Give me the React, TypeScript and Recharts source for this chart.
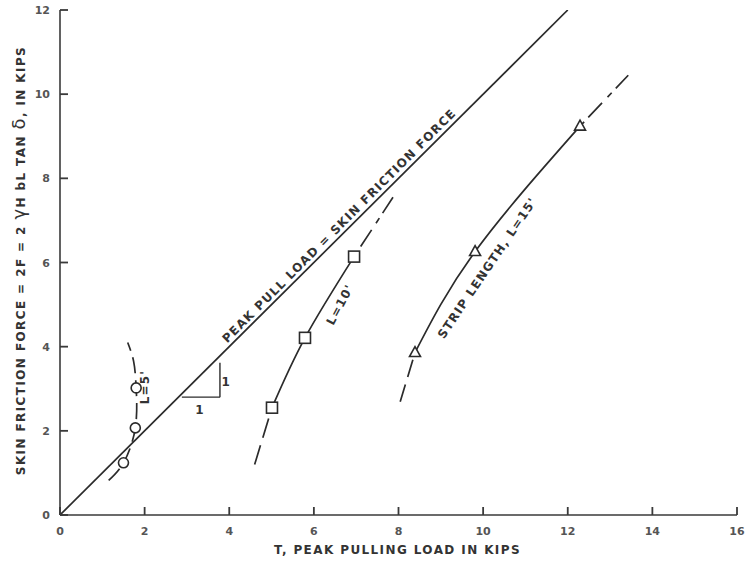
import React from 'react';
import { ComposedChart, Line, XAxis, YAxis, ReferenceDot, ReferenceLine } from 'recharts';

const xTicks = [0, 2, 4, 6, 8, 10, 12, 14, 16];
const yTicks = [0, 2, 4, 6, 8, 10, 12];

const unityLine = [{ x: 0, y: 0 }, { x: 12, y: 12 }];

const l5Curve = [
  { x: 1.15, y: 0.82 }, { x: 1.5, y: 1.24 }, { x: 1.78, y: 2.07 },
  { x: 1.8, y: 3.02 }, { x: 1.74, y: 3.65 }, { x: 1.6, y: 4.1 },
];
const l5Points = [{ x: 1.5, y: 1.24 }, { x: 1.78, y: 2.07 }, { x: 1.8, y: 3.02 }];

const l10Lower = [{ x: 4.6, y: 1.2 }, { x: 5.01, y: 2.55 }];
const l10Points = [{ x: 5.01, y: 2.55 }, { x: 5.79, y: 4.21 }, { x: 6.95, y: 6.14 }];
const l10Upper = [{ x: 6.95, y: 6.14 }, { x: 7.87, y: 7.55 }];

const l15Lower = [{ x: 8.04, y: 2.69 }, { x: 8.39, y: 3.86 }];
const l15Points = [{ x: 8.39, y: 3.86 }, { x: 9.81, y: 6.26 }, { x: 12.29, y: 9.24 }];
const l15Upper = [{ x: 12.29, y: 9.24 }, { x: 13.43, y: 10.45 }];

const slopeH = [{ x: 2.88, y: 2.8 }, { x: 3.78, y: 2.8 }];
const slopeV = [{ x: 3.78, y: 2.8 }, { x: 3.78, y: 3.62 }];

const annotations = [
  { x: 6.6, y: 6.87, text: 'PEAK PULL LOAD = SKIN FRICTION FORCE', angle: -45 },
  { x: 2.0, y: 3.04, text: "L=5'", angle: -90 },
  { x: 6.62, y: 5.0, text: "L=10'", angle: -62 },
  { x: 10.1, y: 5.87, text: "STRIP LENGTH, L=15'", angle: -56 },
  { x: 3.31, y: 2.5, text: '1', angle: 0 },
  { x: 3.93, y: 3.15, text: '1', angle: 0 },
];

const INK = '#2b2b2b';
const AXIS = '#3a3a3a';
const FONT = '"DejaVu Sans", sans-serif';

const XTick = (props: any) => {
  const { x, y, payload } = props;
  const px = Number(x);
  const py = Number(y);
  return (
    <g>
      <rect x={px - 0.9} y={py - 8} width={1.8} height={8} fill={AXIS} />
      <text x={px} y={py + 20} textAnchor="middle" fontSize={11} fontWeight="bold" fill="#555" fontFamily={FONT}>
        {payload.value}
      </text>
    </g>
  );
};

const YTick = (props: any) => {
  const { x, y, payload } = props;
  const px = Number(x);
  const py = Number(y);
  return (
    <g>
      <rect x={px} y={py - 0.9} width={8} height={1.8} fill={AXIS} />
      <text x={px - 10} y={py + 4} textAnchor="end" fontSize={11} fontWeight="bold" fill="#555" fontFamily={FONT}>
        {payload.value}
      </text>
    </g>
  );
};

const XTitle = (props: any) => {
  const { viewBox } = props;
  return (
    <text x={viewBox.x + viewBox.width / 2 - 1} y={viewBox.y + 39} textAnchor="middle" fontSize={12}
      fontWeight="bold" letterSpacing={1.4} fill="#333" fontFamily={FONT}>
      T, PEAK PULLING LOAD IN KIPS
    </text>
  );
};

const YTitle = (props: any) => {
  const { viewBox } = props;
  const cx = viewBox.x + 25;
  const cy = viewBox.y + viewBox.height / 2 - 2;
  return (
    <text x={cx} y={cy} textAnchor="middle" fontSize={12} fontWeight="bold" letterSpacing={1.4} fill="#333"
      fontFamily={FONT} transform={`rotate(-90 ${cx} ${cy})`}>
      SKIN FRICTION FORCE = 2F = 2 <tspan fontSize={18} fontWeight="normal">γ</tspan>H bL TAN <tspan fontSize={18} fontWeight="normal">δ</tspan>, IN KIPS
    </text>
  );
};

const AnnLabel = (props: any) => {
  const { viewBox, txt, rot } = props;
  const cx = viewBox.x + (viewBox.width || 0) / 2;
  const cy = viewBox.y + (viewBox.height || 0) / 2;
  return (
    <text x={cx} y={cy} textAnchor="middle" dominantBaseline="central" fontSize={12} fontWeight="bold"
      letterSpacing={1.2} fill="#333" fontFamily={FONT} transform={`rotate(${rot} ${cx} ${cy})`}>
      {txt}
    </text>
  );
};

const circleMark = (p: any) => (
  <circle key={`c-${p.index}`} cx={p.cx} cy={p.cy} r={5} fill="#fff" stroke={INK} strokeWidth={1.6} />
);
const squareMark = (p: any) => (
  <rect key={`s-${p.index}`} x={p.cx - 5.5} y={p.cy - 5.5} width={11} height={11} fill="#fff" stroke={INK} strokeWidth={1.6} />
);
const triMark = (p: any) => (
  <path key={`t-${p.index}`} d={`M${p.cx},${p.cy - 6} L${p.cx + 5.5},${p.cy + 4} L${p.cx - 5.5},${p.cy + 4} Z`}
    fill="#fff" stroke={INK} strokeWidth={1.6} />
);

export default function App() {
  return (
    <div style={{ position: 'absolute', left: 0, top: 0, background: '#fff' }}>
      <ComposedChart width={746} height={564} margin={{ top: 10, right: 9, bottom: 0, left: 0 }}>
        <XAxis type="number" dataKey="x" domain={[0, 16]} ticks={xTicks} height={49} tickSize={0} tickMargin={0}
          tickLine={false} axisLine={{ stroke: AXIS, strokeWidth: 1.6 }} tick={<XTick />}
          label={<XTitle />} allowDataOverflow interval={0} />
        <YAxis type="number" dataKey="y" domain={[0, 12]} ticks={yTicks} width={60} tickSize={0} tickMargin={0}
          tickLine={false} axisLine={{ stroke: AXIS, strokeWidth: 1.6 }} tick={<YTick />}
          label={<YTitle />} allowDataOverflow interval={0} />

        <Line data={unityLine} dataKey="y" type="linear" stroke={INK} strokeWidth={1.7} dot={false} activeDot={false} isAnimationActive={false} />

        <ReferenceLine segment={slopeH} stroke={INK} strokeWidth={1.4} />
        <ReferenceLine segment={slopeV} stroke={INK} strokeWidth={1.4} />

        <Line data={l5Curve} dataKey="y" type="natural" stroke={INK} strokeWidth={1.7} strokeDasharray="16 7" dot={false} activeDot={false} isAnimationActive={false} />
        <Line data={l5Points} dataKey="y" type="linear" stroke="none" dot={circleMark} activeDot={false} isAnimationActive={false} />

        <Line data={l10Lower} dataKey="y" type="linear" stroke={INK} strokeWidth={1.7} strokeDasharray="20 8" dot={false} activeDot={false} isAnimationActive={false} />
        <Line data={l10Points} dataKey="y" type="natural" stroke={INK} strokeWidth={1.7} dot={squareMark} activeDot={false} isAnimationActive={false} />
        <Line data={l10Upper} dataKey="y" type="linear" stroke={INK} strokeWidth={1.7} strokeDasharray="6 6 20 8" dot={false} activeDot={false} isAnimationActive={false} />

        <Line data={l15Lower} dataKey="y" type="linear" stroke={INK} strokeWidth={1.7} strokeDasharray="18 8" dot={false} activeDot={false} isAnimationActive={false} />
        <Line data={l15Points} dataKey="y" type="natural" stroke={INK} strokeWidth={1.7} dot={triMark} activeDot={false} isAnimationActive={false} />
        <Line data={l15Upper} dataKey="y" type="linear" stroke={INK} strokeWidth={1.7} strokeDasharray="6 6 20 8" dot={false} activeDot={false} isAnimationActive={false} />

        {annotations.map((a, i) => (
          <ReferenceDot key={i} x={a.x} y={a.y} r={0} fill="none" stroke="none"
            label={<AnnLabel txt={a.text} rot={a.angle} />} />
        ))}
      </ComposedChart>
    </div>
  );
}
